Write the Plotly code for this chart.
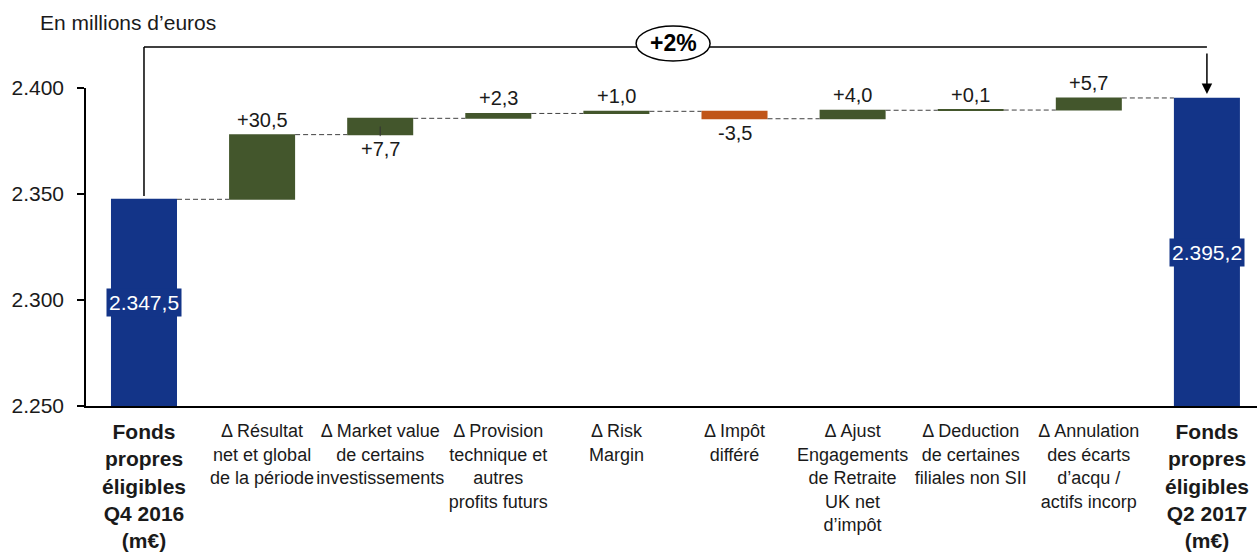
import plotly.graph_objects as go

# ---------------- data ----------------
categories = [
    "Fonds<br>propres<br>éligibles<br>Q4 2016<br>(m€)",
    "Δ Résultat<br>net et global<br>de la période",
    "Δ Market value<br>de certains<br>investissements",
    "Δ Provision<br>technique et<br>autres<br>profits futurs",
    "Δ Risk<br>Margin",
    "Δ Impôt<br>différé",
    "Δ Ajust<br>Engagements<br>de Retraite<br>UK net<br>d’impôt",
    "Δ Deduction<br>de certaines<br>filiales non SII",
    "Δ Annulation<br>des écarts<br>d’acqu /<br>actifs incorp",
    "Fonds<br>propres<br>éligibles<br>Q2 2017<br>(m€)",
]
measures = ["absolute", "relative", "relative", "relative", "relative",
            "relative", "relative", "relative", "relative", "absolute"]
values = [2347.5, 30.5, 7.7, 2.3, 1.0, -3.5, 4.0, 0.1, 5.7, 2395.2]
value_labels = ["2.347,5", "+30,5", "+7,7", "+2,3", "+1,0", "-3,5",
                "+4,0", "+0,1", "+5,7", "2.395,2"]
label_below = [False, False, True, False, False, True, False, False, False, False]
bold_category = [True, False, False, False, False, False, False, False, False, True]
y_ticks = [2250, 2300, 2350, 2400]
y_min, y_max = 2250, 2400
growth_label = "+2%"
unit_label = "En millions d’euros"

# ---------------- style ----------------
BLUE = "#133488"
GREEN = "#43562C"
ORANGE = "#C05519"
TXT = "#1a1a1a"
FONT = "Liberation Sans, Arial, sans-serif"
W, H = 1258, 553
ML, MR, MT, MB = 86, 1, 88, 147
X0, X1 = -0.491, 9.424

xs = list(range(len(categories)))

fig = go.Figure()
fig.add_trace(go.Waterfall(
    x=xs, y=values, measure=measures,
    base=0,
    width=[0.559] * len(xs),
    increasing=dict(marker=dict(color=GREEN, line=dict(width=0))),
    decreasing=dict(marker=dict(color=ORANGE, line=dict(width=0))),
    totals=dict(marker=dict(color=BLUE, line=dict(width=0))),
    connector=dict(mode="between", line=dict(color="#404040", width=1, dash="5px,3px")),
    textposition="none",
    hoverinfo="skip",
))

# running levels
starts, ends = [], []
level = 0.0
for m, v in zip(measures, values):
    if m == "absolute":
        starts.append(y_min)
        level = v
        ends.append(v)
    else:
        starts.append(level)
        level = level + v
        ends.append(level)

annotations = []
shapes = []
for i, (m, lab) in enumerate(zip(measures, value_labels)):
    if m == "absolute":
        annotations.append(dict(
            x=i, y=(y_min + ends[i]) / 2, xref="x", yref="y", text=lab,
            showarrow=False, font=dict(family=FONT, size=21, color="white"),
            bgcolor=BLUE, borderpad=2, xanchor="center", yanchor="middle"))
    else:
        top = max(starts[i], ends[i])
        bot = min(starts[i], ends[i])
        if label_below[i]:
            annotations.append(dict(
                x=i, y=bot, xref="x", yref="y", text=lab, showarrow=False,
                font=dict(family=FONT, size=20, color=TXT),
                xanchor="center", yanchor="top", yshift=-1))
        else:
            annotations.append(dict(
                x=i, y=top, xref="x", yref="y", text=lab, showarrow=False,
                font=dict(family=FONT, size=20, color=TXT),
                xanchor="center", yanchor="bottom", yshift=2))

# small tick under +7,7
i77 = 2
shapes.append(dict(type="line", xref="x", yref="y",
                   x0=i77, x1=i77, y0=(starts[i77] + ends[i77]) / 2, y1=starts[i77] - 0.7,
                   line=dict(color="#333", width=1)))

# bold category labels as annotations
for i, c in enumerate(categories):
    if bold_category[i]:
        annotations.append(dict(
            x=i, y=0, xref="x", yref="paper", text="<b>" + c + "</b>",
            showarrow=False, font=dict(family=FONT, size=21, color=TXT),
            xanchor="center", yanchor="top", yshift=-12, align="center"))

tick_text = ["" if b else c for c, b in zip(categories, bold_category)]


def px(i):
    return (i - X0) / (X1 - X0)


def py(v):
    return (v - y_min) / (y_max - y_min)


bracket_y = 1.129
# left vertical of bracket
shapes.append(dict(type="line", xref="paper", yref="paper",
                   x0=px(0), x1=px(0), y0=py(values[0] + 1.5), y1=bracket_y,
                   line=dict(color="black", width=1.5)))
# horizontal
shapes.append(dict(type="line", xref="paper", yref="paper",
                   x0=px(0), x1=px(9), y0=bracket_y, y1=bracket_y,
                   line=dict(color="black", width=1.5)))
# ellipse with growth
cx = px(4.48)
shapes.append(dict(type="circle", xref="paper", yref="paper",
                   x0=cx - 37 / 1171, x1=cx + 37 / 1171,
                   y0=bracket_y - 14 / 318, y1=bracket_y + 21 / 318,
                   fillcolor="white", line=dict(color="black", width=1.5), layer="above"))
annotations.append(dict(x=cx, y=bracket_y + 3.5 / 318, xref="paper", yref="paper",
                        text="<b>" + growth_label + "</b>", showarrow=False,
                        font=dict(family=FONT, size=23, color="black"),
                        xanchor="center", yanchor="middle"))
# right arrow down to final bar
annotations.append(dict(x=9, y=py(values[-1] + 2.0), xref="x", yref="paper",
                        text="", showarrow=True, ax=0, ay=-42, axref="pixel", ayref="pixel",
                        arrowhead=2, arrowsize=1.4, arrowwidth=1.5, arrowcolor="black",
                        standoff=0, startstandoff=0))

fig.update_layout(
    width=W, height=H,
    margin=dict(l=ML, r=MR, t=MT, b=MB, pad=0),
    plot_bgcolor="white", paper_bgcolor="white",
    separators=",.",
    showlegend=False,
    font=dict(family=FONT, color=TXT),
    title=dict(text=unit_label, xref="container", yref="container",
               x=40 / W, y=1 - 23 / H, xanchor="left", yanchor="middle",
               font=dict(family=FONT, size=21, color=TXT)),
    xaxis=dict(range=[X0, X1], tickmode="array", tickvals=xs, ticktext=tick_text,
               showgrid=False, zeroline=False, showline=True, linecolor="black",
               linewidth=1.5, ticks="", tickfont=dict(family=FONT, size=18, color=TXT),
               ticklabelstandoff=8),
    yaxis=dict(range=[y_min, y_max], tickmode="array", tickvals=y_ticks,
               tickformat=",d", showgrid=False, zeroline=False, showline=True,
               linecolor="black", linewidth=1.5, ticks="outside", ticklen=7,
               tickcolor="black", tickwidth=1.5,
               tickfont=dict(family=FONT, size=21, color=TXT), ticklabelstandoff=9),
    annotations=annotations,
    shapes=shapes,
)

fig.write_html("out.html")
